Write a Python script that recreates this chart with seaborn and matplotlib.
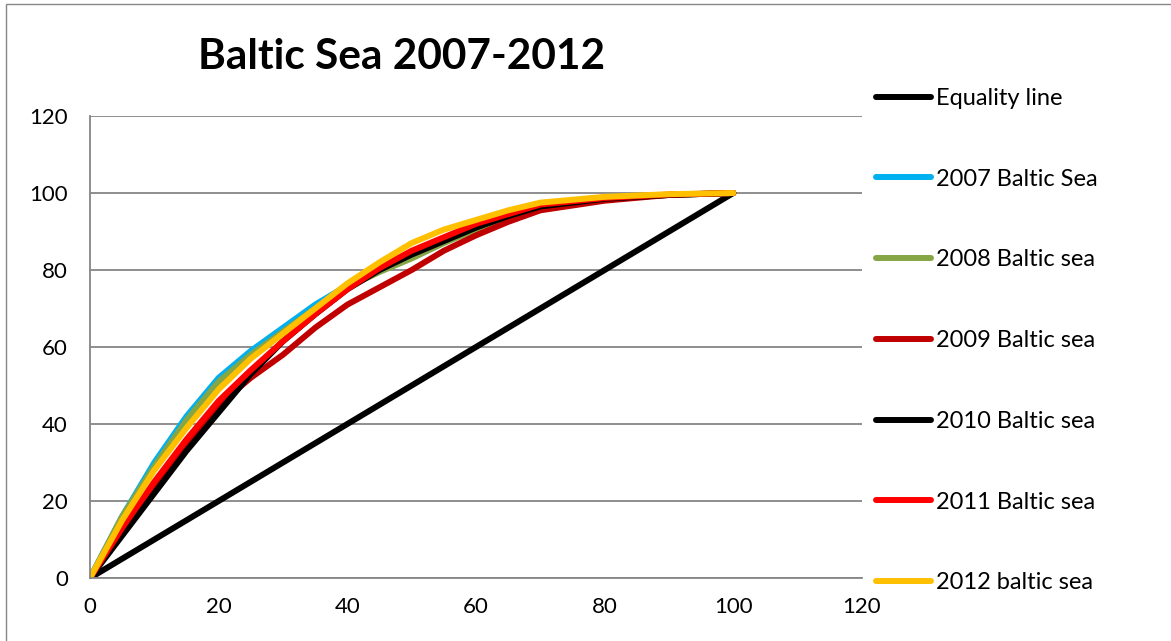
import matplotlib
matplotlib.use("Agg")
import matplotlib.pyplot as plt
import seaborn as sns
import pandas as pd
from matplotlib.patches import Rectangle

# cumulative share data
x_share = [0, 5, 10, 15, 20, 25, 30, 35, 40, 45, 50, 55, 60, 65, 70, 80, 90, 100]

y_2007 = [0, 16, 30, 42, 52, 59, 65, 71, 76, 80, 84, 88, 91, 94, 96.5, 98.5, 99.5, 100]
y_2008 = [0, 16, 29, 41, 51, 58, 64, 70, 75.5, 79.5, 83, 87, 90.5, 93.5, 96, 98.5, 99.5, 100]
y_2009 = [0, 12, 24, 35, 45, 52, 58, 65, 71, 75.5, 80, 85, 89, 92.5, 95.5, 98, 99.5, 100]
y_2010 = [0, 11, 22, 33, 43, 53, 61.5, 68.5, 75, 80, 84, 87.5, 91, 94, 96.5, 98.5, 99.5, 100]
y_2011 = [0, 13, 25, 36, 46, 54, 61.5, 68.5, 75, 80.5, 85, 88.5, 92, 94.5, 97, 98.7, 99.6, 100]
y_2012 = [0, 15, 28, 39, 49, 57, 63.5, 70, 76.5, 82, 87, 90.5, 93, 95.5, 97.5, 99, 99.7, 100]

eq_x = [0, 100]
eq_y = [0, 100]

series_names = [
    "Equality line",
    "2007 Baltic Sea",
    "2008 Baltic sea",
    "2009 Baltic sea",
    "2010 Baltic sea",
    "2011 Baltic sea",
    "2012 baltic sea",
]
series_colors = ["#000000", "#00B0F0", "#86A545", "#C00000", "#000000", "#FF0000", "#FFC000"]

rows = []
for xv, yv in zip(eq_x, eq_y):
    rows.append((series_names[0], xv, yv))
for name, ys in zip(series_names[1:], [y_2007, y_2008, y_2009, y_2010, y_2011, y_2012]):
    for xv, yv in zip(x_share, ys):
        rows.append((name, xv, yv))
df = pd.DataFrame(rows, columns=["series", "x", "y"])

sns.set_style("white")
plt.rcParams["font.family"] = ["Lato", "DejaVu Sans"]
plt.rcParams["text.color"] = "black"

fig = plt.figure(figsize=(11.71, 6.41), dpi=100)
ax = fig.add_axes([90 / 1171, 63 / 641, 772 / 1171, 462 / 641])

sns.lineplot(
    data=df,
    x="x",
    y="y",
    hue="series",
    hue_order=series_names,
    palette=dict(zip(series_names, series_colors)),
    linewidth=4.3,
    sort=False,
    estimator=None,
    ax=ax
)

grid_col = "#868686"
ax.set_xlim(0, 120)
ax.set_ylim(0, 120)
ax.set_xticks(range(0, 121, 20))
ax.set_yticks(range(0, 121, 20))
ax.set_xlabel("")
ax.set_ylabel("")
ax.grid(axis="y", color=grid_col, linewidth=1.3)
ax.set_axisbelow(True)

for side in ["top", "right"]:
    ax.spines[side].set_visible(False)
for side in ["left", "bottom"]:
    ax.spines[side].set_color(grid_col)
    ax.spines[side].set_linewidth(1.3)

ax.tick_params(
    axis="both",
    direction="out",
    length=6,
    width=1.3,
    color=grid_col,
    labelsize=16,
    labelcolor="black",
    pad=8
)
ax.tick_params(axis="y", pad=10)

handles, labels = ax.get_legend_handles_labels()
leg = ax.legend(
    handles,
    labels,
    loc="upper left",
    bbox_to_anchor=(876 / 1171, 1 - 88 / 641),
    bbox_transform=fig.transFigure,
    frameon=False,
    fontsize=17,
    labelspacing=2.53,
    handlelength=2.33,
    handletextpad=0.22,
    borderpad=0,
    borderaxespad=0
)
for t in leg.get_texts():
    t.set_color("black")

fig.text(
    402 / 1171,
    1 - 57 / 641,
    "Baltic Sea 2007-2012",
    ha="center",
    va="center",
    fontsize=30.5,
    fontweight="bold",
    color="black"
)

fig.patches.append(
    Rectangle(
        (6 / 1171, -0.05),
        1.1,
        (641 - 4) / 641 + 0.05,
        transform=fig.transFigure,
        fill=False,
        edgecolor=grid_col,
        linewidth=1
    )
)

fig.savefig("out.png", dpi=100)
